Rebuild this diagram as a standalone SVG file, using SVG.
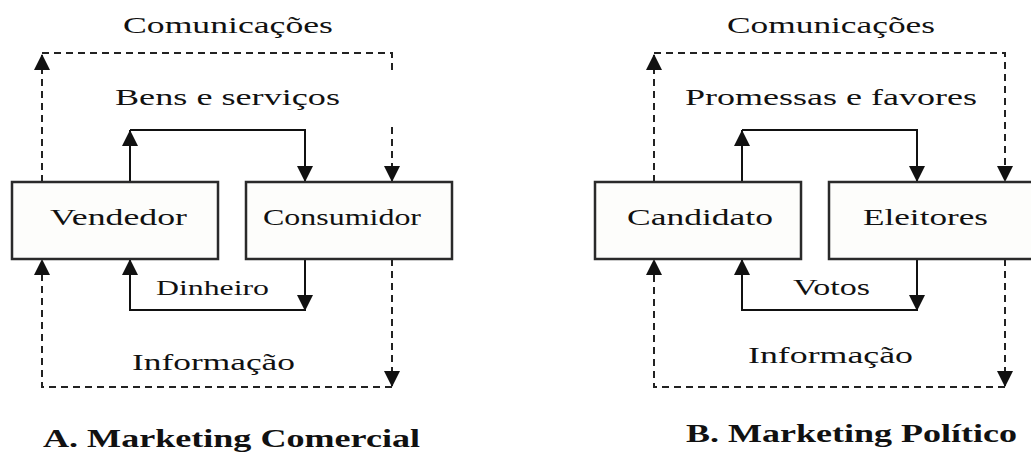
<svg xmlns="http://www.w3.org/2000/svg" width="1031" height="454" viewBox="0 0 1031 454">
<defs>
<style>
.bg{fill:#ffffff}
.box{fill:#fdfdfb;stroke:#2a2a2a;stroke-width:2.5}
.t{font-family:"Liberation Serif","Times New Roman",serif;font-size:23px;fill:#111}
.s{font-size:21px}
.ttl{font-family:"Liberation Serif","Times New Roman",serif;font-size:26px;font-weight:bold;fill:#111}
.ln{fill:none;stroke:#111;stroke-width:2}
.ds{fill:none;stroke:#222;stroke-width:2;stroke-dasharray:7 5}
.ar{marker-end:url(#ah)}
</style>
<marker id="ah" viewBox="0 0 16 16" markerWidth="16" markerHeight="16" markerUnits="userSpaceOnUse" refX="16" refY="8" orient="auto">
<polygon points="0,0 16,8 0,16" fill="#111"/>
</marker>
</defs>
<rect class="bg" x="0" y="0" width="1031" height="454"/>

<g id="connectors">
<!-- A: Comunicações -->
<path class="ds ar" d="M42,182 V54"/>
<path class="ds" d="M42,53 H392 V72"/>
<path class="ds ar" d="M392,127 V182"/>
<!-- A: Bens e serviços -->
<path class="ln ar" d="M130,182 V130"/>
<path class="ln ar" d="M130,130 H305 V182"/>
<!-- A: Dinheiro -->
<path class="ln ar" d="M305,259 V311"/>
<path class="ln ar" d="M305,310 H130 V259"/>
<!-- A: Informação -->
<path class="ds ar" d="M392,259 V387"/>
<path class="ds ar" d="M392,387 H42 V259"/>

<!-- B: Comunicações -->
<path class="ds ar" d="M654,182 V54"/>
<path class="ds ar" d="M654,53 H1005 V182"/>
<!-- B: Promessas e favores -->
<path class="ln ar" d="M742,182 V130"/>
<path class="ln ar" d="M742,130 H917 V182"/>
<!-- B: Votos -->
<path class="ln ar" d="M917,259 V311"/>
<path class="ln ar" d="M917,310 H742 V259"/>
<!-- B: Informação -->
<path class="ds ar" d="M1005,259 V387"/>
<path class="ds ar" d="M1005,387 H654 V259"/>
</g>

<g id="vendedor">
<rect class="box" x="12" y="182" width="206" height="77"/>
<text class="t" x="50" y="225" textLength="137" lengthAdjust="spacingAndGlyphs">Vendedor</text>
</g>
<g id="consumidor">
<rect class="box" x="246" y="182" width="206" height="77"/>
<text class="t" x="263" y="225" textLength="158" lengthAdjust="spacingAndGlyphs">Consumidor</text>
</g>
<g id="candidato">
<rect class="box" x="595" y="182" width="206" height="77"/>
<text class="t" x="627" y="225" textLength="146" lengthAdjust="spacingAndGlyphs">Candidato</text>
</g>
<g id="eleitores">
<rect class="box" x="829" y="182" width="210" height="77"/>
<text class="t" x="863" y="225" textLength="125" lengthAdjust="spacingAndGlyphs">Eleitores</text>
</g>

<g id="labels">
<text class="t" x="123" y="33" textLength="210" lengthAdjust="spacingAndGlyphs">Comunicações</text>
<text class="t" x="115" y="105" textLength="225" lengthAdjust="spacingAndGlyphs">Bens e serviços</text>
<text class="t s" x="156" y="295" textLength="113" lengthAdjust="spacingAndGlyphs">Dinheiro</text>
<text class="t" x="132" y="370" textLength="163" lengthAdjust="spacingAndGlyphs">Informação</text>
<text class="ttl" x="43" y="447" textLength="377" lengthAdjust="spacingAndGlyphs">A. Marketing Comercial</text>

<text class="t" x="727" y="33" textLength="208" lengthAdjust="spacingAndGlyphs">Comunicações</text>
<text class="t" x="685" y="105" textLength="292" lengthAdjust="spacingAndGlyphs">Promessas e favores</text>
<text class="t" x="793" y="295" textLength="77" lengthAdjust="spacingAndGlyphs">Votos</text>
<text class="t" x="748" y="363" textLength="165" lengthAdjust="spacingAndGlyphs">Informação</text>
<text class="ttl" x="686" y="442" textLength="331" lengthAdjust="spacingAndGlyphs">B. Marketing Político</text>
</g>
</svg>
